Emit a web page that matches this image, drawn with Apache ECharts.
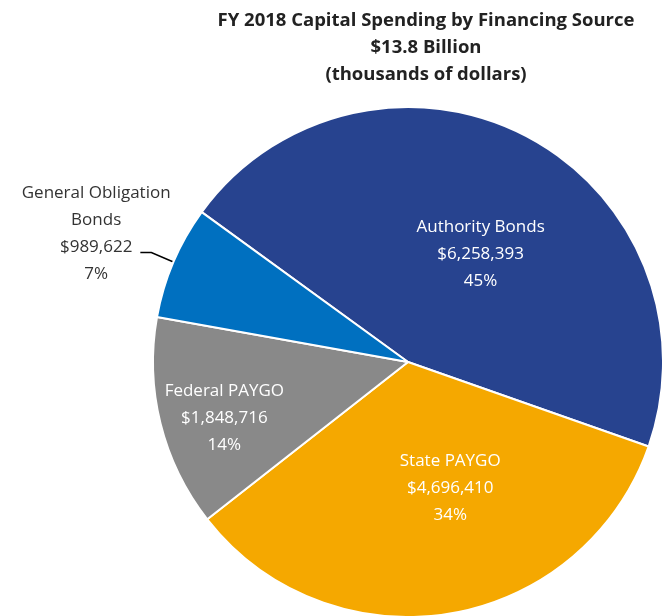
<!DOCTYPE html>
<html>
<head>
<meta charset="utf-8">
<script src="https://cdn.jsdelivr.net/npm/echarts@6/dist/echarts.min.js"></script>
<style>
html,body{margin:0;padding:0;background:#fff;}
#chart{width:662px;height:616px;}
</style>
</head>
<body>
<div id="chart"></div>
<script>
// 数据
const names = ['Authority Bonds', 'State PAYGO', 'Federal PAYGO', 'General Obligation\nBonds'];
const values = [6258393, 4696410, 1848716, 989622];
const percents = ['45%', '34%', '14%', '7%'];
const colors = ['#27438F', '#F5A800', '#898989', '#0070C0'];

const fmt = v => '$' + v.toLocaleString('en-US');

let mychart = echarts.init(document.getElementById('chart'));
let option = {
    title: {
        text: 'FY 2018 Capital Spending by Financing Source\n$13.8 Billion\n(thousands of dollars)',
        left: 421,
        top: 2,
        textAlign: 'center',
        textStyle: {
            fontFamily: 'Open Sans',
            fontSize: 18.5,
            fontWeight: 'bold',
            color: '#222',
            lineHeight: 27
        }
    },
    series: [{
        type: 'pie',
        center: [408, 362],
        radius: 255,
        startAngle: 144,
        clockwise: true,
        animation: false,
        itemStyle: {borderColor: '#fff', borderWidth: 2},
        label: {
            position: 'inside',
            color: '#fff',
            fontFamily: 'Open Sans',
            fontSize: 17,
            lineHeight: 27,
            formatter: p => p.name + '\n' + fmt(p.value) + '\n' + percents[p.dataIndex]
        },
        labelLayout: function (p) {
            // 手动微调标签位置
            if (p.dataIndex === 0) return {dx: 12, dy: 8};
            if (p.dataIndex === 1) return {dx: 21, dy: -3};
            if (p.dataIndex === 2) return {dx: -57, dy: 25};
            if (p.dataIndex === 3) return {dx: 22};
            return {};
        },
        data: names.map((n, i) => {
            let d = {name: n, value: values[i], itemStyle: {color: colors[i]}};
            if (i === 3) {
                d.label = {
                    position: 'outside',
                    color: '#333',
                    distanceToLabelLine: 2,
                    overflow: 'none',
                    padding: [0, 0, 37, 0],
                    lineHeight: 27,
                    formatter: p => '{c|General Obligation}\n{c|Bonds}\n{c|' + fmt(p.value) + '}\n{c|' + percents[p.dataIndex] + '}',
                    rich: {c: {align: 'center', fontFamily: 'Open Sans', fontSize: 17, lineHeight: 27, color: '#333'}}
                };
                d.labelLine = {show: true, length: 24, length2: 11, lineStyle: {color: '#000', width: 1.5}};
            }
            return d;
        })
    }]
};
mychart.setOption(option, true);
</script>
</body>
</html>
